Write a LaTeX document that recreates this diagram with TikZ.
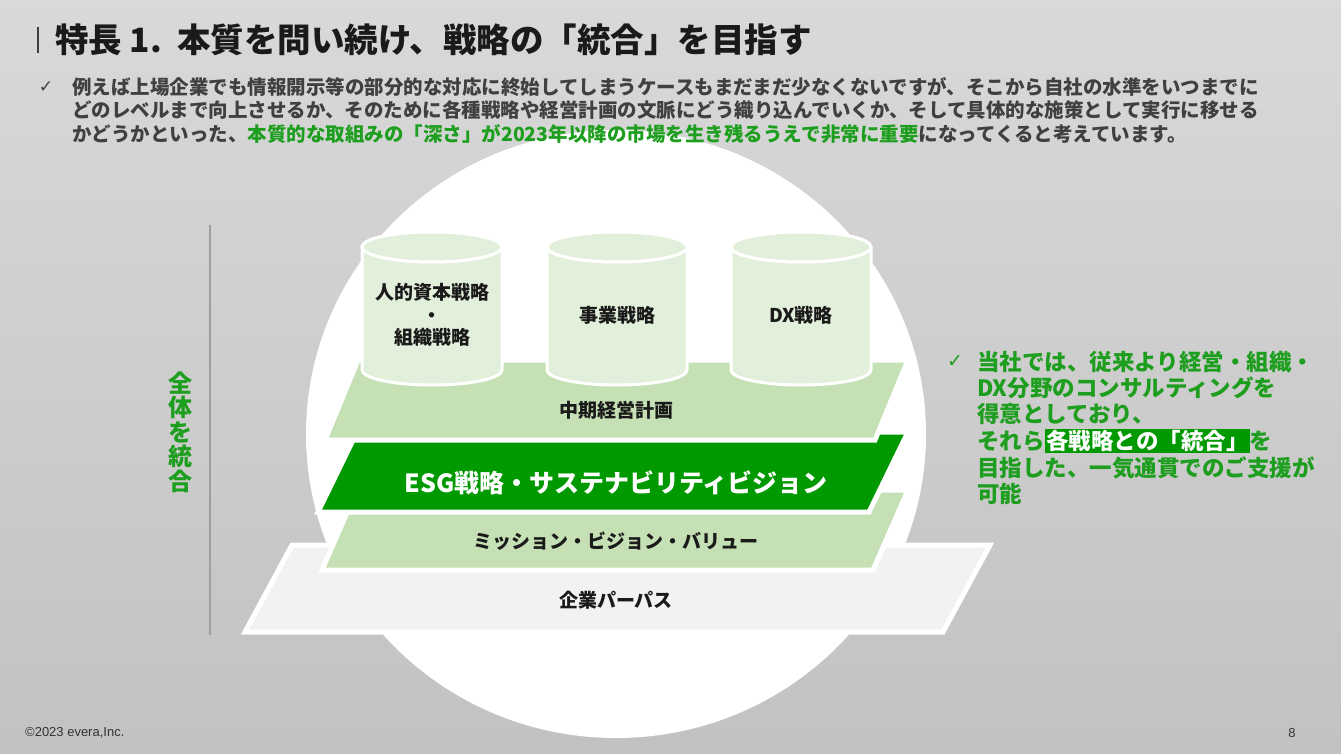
\documentclass[tikz,border=0pt]{standalone}
\usepackage{fontspec}
\setmainfont{Noto Sans CJK JP}
\newfontfamily\sym{DejaVu Sans}
\newfontfamily\lat{Liberation Sans}
\definecolor{esggreen}{HTML}{009900}
\definecolor{txtgreen}{HTML}{1E9E1E}
\definecolor{lgreen}{HTML}{C5E0B4}
\definecolor{cylgreen}{HTML}{E2EFDA}
\definecolor{purpose}{HTML}{F2F2F2}
\definecolor{bodygray}{HTML}{404040}
\definecolor{txtblack}{HTML}{1A1A1A}
\tikzset{
  band/.style={draw=white, line width=5pt, line join=miter},
  cyl/.style={fill=cylgreen, draw=white, line width=3pt},
  lbl/.style={font=\fontsize{19}{22}\selectfont\bfseries, text=txtblack, inner sep=0pt},
  body/.style={font=\fontsize{19.5}{23}\selectfont\bfseries, text=bodygray, anchor=west, inner sep=0pt},
  rtxt/.style={font=\fontsize{22.5}{26}\selectfont\bfseries, text=txtgreen, anchor=west, inner sep=0pt},
}
\begin{document}
\begin{tikzpicture}[x=1pt,y=-1pt]
\useasboundingbox (0,0) rectangle (1341,754);
\shade[top color=black!15, middle color=black!5, bottom color=black!24] (0,0) rectangle (1341,754);
% white ellipse
\fill[white] (616,434) ellipse [x radius=310, y radius=304];
% title
\draw[bodygray, line width=1.5pt] (38,27) -- (38,53);
\node[anchor=west, inner sep=0pt, font=\fontsize{33.5}{36}\selectfont\bfseries, text=txtblack] (title) at (55,40) {特長 1.\hspace{0.45em}本質を問い続け、戦略の「統合」を目指す};
% body text
\node[font=\sym\fontsize{17}{20}\selectfont, text=bodygray, inner sep=0pt] (chk1) at (46,87) {✓};
\node[body] (l1) at (72,87) {例えば上場企業でも情報開示等の部分的な対応に終始してしまうケースもまだまだ少なくないですが、そこから自社の水準をいつまでに};
\node[body] (l2) at (72,110) {どのレベルまで向上させるか、そのために各種戦略や経営計画の文脈にどう織り込んでいくか、そして具体的な施策として実行に移せる};
\node[body] (l3) at (72,134) {かどうかといった、\textcolor{txtgreen}{本質的な取組みの「深さ」が2023年以降の市場を生き残るうえで非常に重要}になってくると考えています。};
% left vertical line and label
\draw[black!38, line width=1.5pt] (210,225) -- (210,635);
\node[font=\fontsize{24}{24.5}\selectfont\bfseries, text=txtgreen, align=center, inner sep=0pt] (zentai) at (180,432) {全\\体\\を\\統\\合};
% bands
\path[band, fill=purpose] (245,632) -- (292,545) -- (990,545) -- (943,632) -- cycle;
\node[lbl] (kigyo) at (616,600) {企業パーパス};
\path[band, fill=lgreen] (322,570) -- (357,490) -- (908,490) -- (873,570) -- cycle;
\node[lbl] (mvv) at (616,541) {ミッション・ビジョン・バリュー};
\path[band, fill=esggreen] (318,512) -- (357,432) -- (908,432) -- (869,512) -- cycle;
\node[lbl, text=white, font=\fontsize{25}{28}\selectfont\bfseries] (esg) at (616,483) {ESG戦略・サステナビリティビジョン};
\path[band, fill=lgreen] (325,440) -- (358,360) -- (908,360) -- (875,440) -- cycle;
\node[lbl] (chuki) at (616,410) {中期経営計画};
% cylinders
\foreach \cx/\nm in {432/c1, 617/c2, 801/c3}{
  \path[cyl] (\cx-70,247) -- (\cx-70,370) arc[start angle=180, end angle=0, x radius=70, y radius=15] -- (\cx+70,247) arc[start angle=360, end angle=180, x radius=70, y radius=15] -- cycle;
  \path[cyl] (\cx,247) ellipse [x radius=70, y radius=15];
}
\node[lbl, align=center, font=\fontsize{19}{22.5}\selectfont\bfseries] (jinteki) at (432,315) {人的資本戦略\\・\\組織戦略};
\node[lbl] (jigyo) at (617,315) {事業戦略};
\node[lbl] (dx) at (801,315) {DX戦略};
% right text
\node[font=\sym\fontsize{19}{22}\selectfont, text=txtgreen, inner sep=0pt] (chk2) at (955,362) {✓};
\node[rtxt] (r1) at (977,362) {当社では、従来より経営・組織・};
\node[rtxt] (r2) at (977,388) {DX分野のコンサルティングを};
\node[rtxt] (r3) at (977,414) {得意としており、};
\node[rtxt] (r4) at (977,441) {それら{\setlength\fboxsep{1.5pt}\colorbox{esggreen}{\textcolor{white}{各戦略との「統合」}}}を};
\node[rtxt] (r5) at (977,468) {目指した、一気通貫でのご支援が};
\node[rtxt] (r6) at (977,494) {可能};
% footer
\node[anchor=west, inner sep=0pt, font=\lat\fontsize{13}{15}\selectfont, text=black!80] (copy) at (25,733) {©2023 evera,Inc.};
\node[inner sep=0pt, font=\lat\fontsize{13}{15}\selectfont, text=black!80] (page) at (1292,733) {8};
\end{tikzpicture}
\end{document}
